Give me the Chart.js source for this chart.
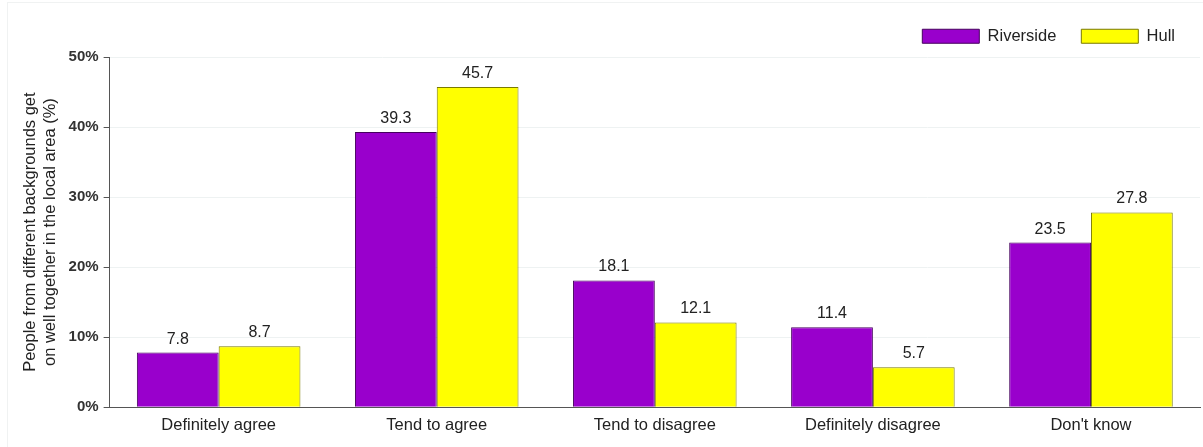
<!DOCTYPE html>
<html>
   <head>
      <title>Local area</title>
      <meta charset="utf-8">
      <style>
         body { margin: 0; background: #fff; }
         .frame { position: absolute; left: 7px; top: 2px; width: 1196px; height: 445px; border-left: 1px solid #f0f2f2; border-top: 1px solid #f0f2f2; box-sizing: border-box; }
         .chart-container { position: absolute; left: 0; top: 0; width: 1203px; height: 447px; }
      </style>
   </head>
   <body>
      <div class="frame"></div>
      <div class="chart-container">
         <canvas id="areaChart"></canvas>
      </div>

      <script src="https://cdn.jsdelivr.net/npm/chart.js"></script>
      <script>
      const categories = ['Definitely agree', 'Tend to agree', 'Tend to disagree', 'Definitely disagree', "Don't know"];
      const riverside = [7.8, 39.3, 18.1, 11.4, 23.5];
      const hull = [8.7, 45.7, 12.1, 5.7, 27.8];
      const yTicks = [0, 10, 20, 30, 40, 50];

      const FONT = '"Liberation Sans", Arial, sans-serif';

      // draws the value above each bar
      const valueLabels = {
         id: 'valueLabels',
         afterDatasetsDraw(chart) {
            const ctx = chart.ctx;
            ctx.save();
            ctx.font = '16px ' + FONT;
            ctx.fillStyle = '#222';
            ctx.textAlign = 'center';
            ctx.textBaseline = 'alphabetic';
            chart.data.datasets.forEach((ds, i) => {
               chart.getDatasetMeta(i).data.forEach((bar, j) => {
                  ctx.fillText(ds.data[j].toFixed(1), bar.x, bar.y - 9);
               });
            });
            ctx.restore();
         }
      };

      // keep the legend band short so the plot starts where the original does
      const legendHeight = {
         id: 'legendHeight',
         beforeLayout(chart) {
            const lg = chart.legend;
            if (lg && !lg._patched) {
               const fit = lg.fit;
               lg.fit = function () { fit.call(this); this.height = 54; };
               lg._patched = true;
            }
         }
      };

      var ctxElem = document.getElementById('areaChart').getContext('2d');
      var areaChart = new Chart(ctxElem, {
         type: 'bar',
         data: {
            labels: categories,
            datasets: [{
               label: 'Riverside',
               backgroundColor: '#9900cc',
               borderColor: '#45005e',
               borderWidth: 1,
               data: riverside
            }, {
               label: 'Hull',
               backgroundColor: '#ffff00',
               borderColor: '#7a7a00',
               borderWidth: 1,
               data: hull
            }]
         },
         options: {
            responsive: true,
            maintainAspectRatio: false,
            animation: false,
            layout: { padding: { top: 3, right: 3, bottom: 4, left: 21 } },
            datasets: { bar: { categoryPercentage: 0.75, barPercentage: 1.0 } },
            plugins: {
               legend: {
                  position: 'top',
                  align: 'end',
                  labels: {
                     boxWidth: 57,
                     boxHeight: 14,
                     padding: 25,
                     color: '#222',
                     font: { size: 16.5, family: FONT }
                  }
               },
               tooltip: { enabled: false }
            },
            scales: {
               x: {
                  grid: { display: false, drawTicks: false },
                  border: { color: '#555', width: 1 },
                  ticks: {
                     color: '#222',
                     padding: 8,
                     font: { size: 16.5, family: FONT }
                  }
               },
               y: {
                  min: 0,
                  max: 50,
                  afterBuildTicks: (axis) => { axis.ticks = yTicks.map(v => ({ value: v })); },
                  grid: { color: '#eef2f2', tickColor: '#555', tickLength: 6 },
                  border: { color: '#555', width: 1 },
                  ticks: {
                     color: '#333',
                     padding: 5,
                     font: { size: 15, weight: 'bold', family: FONT },
                     callback: (v) => v + '%'
                  },
                  title: {
                     display: true,
                     text: ['People from different backgrounds get', 'on well together in the local area (%)'],
                     color: '#222',
                     padding: { top: 0, bottom: 3 },
                     font: { size: 16.5, family: FONT, lineHeight: 1.2 }
                  }
               }
            }
         },
         plugins: [valueLabels, legendHeight]
      });
      </script>
   </body>
</html>
